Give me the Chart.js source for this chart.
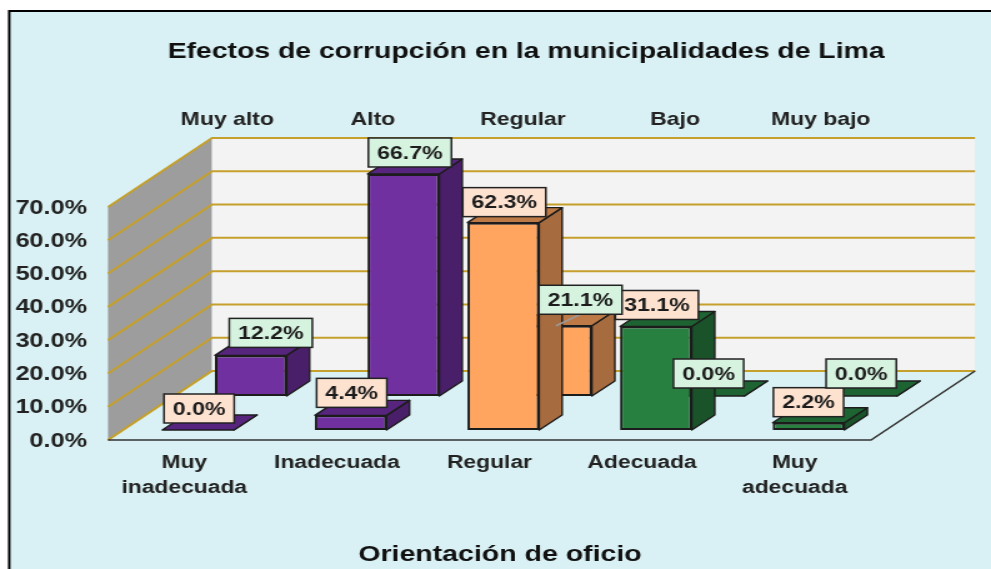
<!DOCTYPE html>
<html lang="es">
<head>
<meta charset="utf-8">
<title>Efectos de corrupción</title>
<script src="https://cdn.jsdelivr.net/npm/chart.js@4"></script>
<style>
html,body{margin:0;padding:0;background:#fff;overflow:hidden;width:991px;height:569px}
#wrap{position:absolute;left:0;top:0;width:793px;height:569px;transform-origin:0 0;transform:scaleX(1.24968);filter:blur(0.4px)}
canvas{display:block}
</style>
</head>
<body>
<div id="wrap"><canvas id="c" width="793" height="569"></canvas></div>
<script>
// ---- data ----
const categories = [['Muy','inadecuada'],'Inadecuada','Regular','Adecuada',['Muy','adecuada']];
const rowLabels  = ['Muy alto','Alto','Regular','Bajo','Muy bajo'];
const frontValues = [0.0, 4.4, 62.3, 31.1, 2.2];
const backValues  = [12.2, 66.7, 21.1, 0.0, 0.0];
const yTicks = [0,10,20,30,40,50,60,70];
const chartTitle = 'Efectos de corrupción en la municipalidades de Lima';
const xTitle = 'Orientación de oficio';

// ---- styling & projection (reference px, converted by SX) ----
const SX = 991/793;
const r = v => v/SX;
const faceColors = ['#7030a0','#7030a0','#ffa560','#278040','#278040'];
const sideColors = ['#4a1f69','#4a1f69','#a66b3e','#1a532a','#1a532a'];
const topColors  = ['#57257d','#57257d','#bd7a46','#1e6432','#1e6432'];
const EDGE = '#1c1c1c', BG = '#d9f1f4', GOLD = '#c6a02c', FONT = '"Liberation Sans", Arial, sans-serif';
const WALL = {dx:r(104), dy:-69};
const DEPTH = {dx:r(23), dy:-15};
const ROWS = [
  {dx:r(13.8), dy:-10, box:'#fde2d0', nudgeX:[1,1,1,1,0].map(r), gap:[7,8,6,7,6]},
  {dx:r(66.5), dy:-44, box:'#d6f3df', nudgeX:[20,6.5,24.5,0,0].map(r), gap:[8,7,11.5,8,8]}
];
const TOP_NUDGE = [43,36,33.5,33,26].map(r);
const TITLE_LEFT = 100, TITLE_RIGHT = 742, TITLE_PAD = 38, TITLE_SIZE = 22.7;

function poly(ctx, pts, fill, stroke, lw){
  ctx.beginPath();
  pts.forEach((p,i)=> i?ctx.lineTo(p[0],p[1]):ctx.moveTo(p[0],p[1]));
  ctx.closePath();
  if(fill){ctx.fillStyle=fill;ctx.fill();}
  if(stroke){ctx.strokeStyle=stroke;ctx.lineWidth=lw||1.5;ctx.lineJoin='round';ctx.stroke();}
}

const scene = {
  id:'scene',
  afterLayout(chart){
    // title centred over the plot as in the reference
    const t = chart.titleBlock;
    if(t){ t.left = TITLE_LEFT; t.right = TITLE_RIGHT; }
    const xs = chart.scales.x;
    if(!xs._wrappedTitle){
      const orig = xs.drawTitle;
      xs.drawTitle = function(){
        const l=this.left, rr=this.right;
        this.left = l+r(10.5); this.right = rr+r(10.5);
        orig.call(this);
        this.left = l; this.right = rr;
      };
      xs._wrappedTitle = true;
    }
    const x2 = chart.scales.x2;
    if(!x2._wrappedItems){
      const origItems = x2.getLabelItems;
      x2.getLabelItems = function(a){
        const items = origItems.call(this,a);
        if(!items._nudged){
          items.forEach((it,i)=>{
            const tr = it.options.translation;
            it.options.translation = [tr[0]+TOP_NUDGE[i], tr[1]];
          });
          items._nudged = true;
        }
        return items;
      };
      x2._wrappedItems = true;
    }
  },
  beforeDraw(chart){
    const {ctx,width,height} = chart;
    ctx.save();
    ctx.fillStyle='#fff'; ctx.fillRect(0,0,width,height);
    ctx.fillStyle='#000'; ctx.fillRect(r(8),10,width,height);
    ctx.fillStyle=BG; ctx.fillRect(r(10.5),12,width,height);
    ctx.restore();
  },
  beforeDatasetsDraw(chart){
    const {ctx,chartArea:a,scales:{y}} = chart;
    const {dx,dy} = WALL;
    const yTop = y.getPixelForValue(yTicks[yTicks.length-1]), yBot = y.getPixelForValue(0);
    ctx.save();
    poly(ctx,[[a.left,yBot],[a.left+dx,yBot+dy],[a.left+dx,yTop+dy],[a.left,yTop]],'#9d9d9d');
    poly(ctx,[[a.left+dx,yBot+dy],[a.right+dx,yBot+dy],[a.right+dx,yTop+dy],[a.left+dx,yTop+dy]],'#f3f3f3');
    ctx.strokeStyle=GOLD; ctx.lineWidth=2;
    yTicks.forEach(v=>{
      const py=y.getPixelForValue(v);
      ctx.beginPath();
      ctx.moveTo(a.left,py);
      ctx.lineTo(a.left+dx,py+dy);
      ctx.lineTo(a.right+dx,py+dy);
      ctx.stroke();
    });
    // floor
    poly(ctx,[[a.left,yBot],[a.left+dx,yBot+dy],[a.right+dx,yBot+dy],[a.right,yBot]],BG);
    ctx.strokeStyle=GOLD; ctx.lineWidth=2;
    ctx.beginPath();ctx.moveTo(a.left,yBot);ctx.lineTo(a.left+dx,yBot+dy);ctx.lineTo(a.right+dx,yBot+dy);ctx.stroke();
    ctx.strokeStyle='#333'; ctx.lineWidth=1.6;
    ctx.beginPath();ctx.moveTo(a.left,yBot);ctx.lineTo(a.right,yBot);ctx.lineTo(a.right+dx,yBot+dy);ctx.stroke();
    ctx.restore();
  },
  beforeDatasetDraw(chart,args){
    const {ctx} = chart;
    const row = ROWS[args.index];
    ctx.save();
    ctx.translate(row.dx,row.dy);
    chart.getDatasetMeta(args.index).data.forEach((bar,i)=>{
      const p = bar.getProps(['x','y','base','width'],true);
      const L=p.x-p.width/2, R=p.x+p.width/2, T=p.y, B=p.base, {dx,dy}=DEPTH;
      poly(ctx,[[R,T],[R+dx,T+dy],[R+dx,B+dy],[R,B]],sideColors[i],EDGE,1.4);
      poly(ctx,[[L,T],[L+dx,T+dy],[R+dx,T+dy],[R,T]],topColors[i],EDGE,1.4);
    });
  },
  afterDatasetDraw(chart){ chart.ctx.restore(); },
  afterDatasetsDraw(chart){
    const {ctx} = chart;
    ctx.save();
    ctx.font = 'bold 18.5px '+FONT;
    ctx.textAlign='center'; ctx.textBaseline='middle';
    [0,1].forEach(idx=>{
      const row = ROWS[idx];
      chart.getDatasetMeta(idx).data.forEach((bar,i)=>{
        const p = bar.getProps(['x','y'],true);
        const v = chart.data.datasets[idx].data[i];
        const txt = v.toFixed(1)+'%';
        const w = ctx.measureText(txt).width + 14;
        const h = 29;
        const cx = p.x+row.dx+row.nudgeX[i];
        const bottom = p.y+row.dy-row.gap[i];
        if(row.nudgeX[i] > r(22)){
          ctx.strokeStyle='#9a9a9a'; ctx.lineWidth=1.5;
          ctx.beginPath();ctx.moveTo(p.x+row.dx,p.y+row.dy);ctx.lineTo(cx,bottom);ctx.stroke();
        }
        ctx.fillStyle=row.box; ctx.strokeStyle='#222'; ctx.lineWidth=1.5;
        ctx.fillRect(cx-w/2,bottom-h,w,h); ctx.strokeRect(cx-w/2,bottom-h,w,h);
        ctx.fillStyle='#1c1c1c';
        ctx.fillText(txt,cx,bottom-h/2+1);
      });
    });
    ctx.restore();
  }
};

const barStyle = {grouped:false,clip:false,backgroundColor:faceColors,borderColor:EDGE,borderWidth:2,borderSkipped:false,barPercentage:0.47,categoryPercentage:1};

new Chart(document.getElementById('c'),{
  type:'bar',
  plugins:[scene],
  data:{
    labels:categories,
    datasets:[
      {label:'Fila frontal',data:frontValues,order:0,...barStyle},
      {label:'Fila posterior',data:backValues,order:1,...barStyle}
    ]
  },
  options:{
    responsive:false,
    animation:false,
    layout:{padding:{left:0,right:793-r(871),top:0,bottom:0}},
    plugins:{
      legend:{display:false},
      tooltip:{enabled:false},
      title:{display:true,text:chartTitle,color:'#111',font:{family:FONT,size:TITLE_SIZE,weight:'bold'},padding:{top:TITLE_PAD,bottom:0}}
    },
    scales:{
      x:{
        type:'category',position:'bottom',offset:true,
        grid:{display:false,drawTicks:false},border:{display:false},
        ticks:{color:'#222',font:{family:FONT,size:18.3,weight:'bold',lineHeight:1.33},padding:11,maxRotation:0,minRotation:0,autoSkip:false},
        title:{display:true,text:xTitle,color:'#111',font:{family:FONT,size:22.8,weight:'bold'},padding:{top:0,bottom:1}},
        afterFit(s){s.height=129;}
      },
      x2:{
        type:'category',position:'top',offset:true,labels:rowLabels,
        grid:{display:false,drawTicks:false},border:{display:false},
        ticks:{color:'#222',font:{family:FONT,size:18.4,weight:'bold'},padding:76,maxRotation:0,minRotation:0,autoSkip:false},
        afterFit(s){s.height=207-(TITLE_PAD+TITLE_SIZE*1.2);}
      },
      y:{
        type:'linear',position:'left',min:yTicks[0],max:yTicks[yTicks.length-1],
        grid:{display:false,drawTicks:false},border:{display:false},
        ticks:{stepSize:10,color:'#222',font:{family:FONT,size:20.2,weight:'bold'},padding:r(21),labelOffset:1,callback:v=>v.toFixed(1)+'%'},
        afterFit(s){s.width=r(108);}
      }
    }
  }
});
</script>
</body>
</html>
